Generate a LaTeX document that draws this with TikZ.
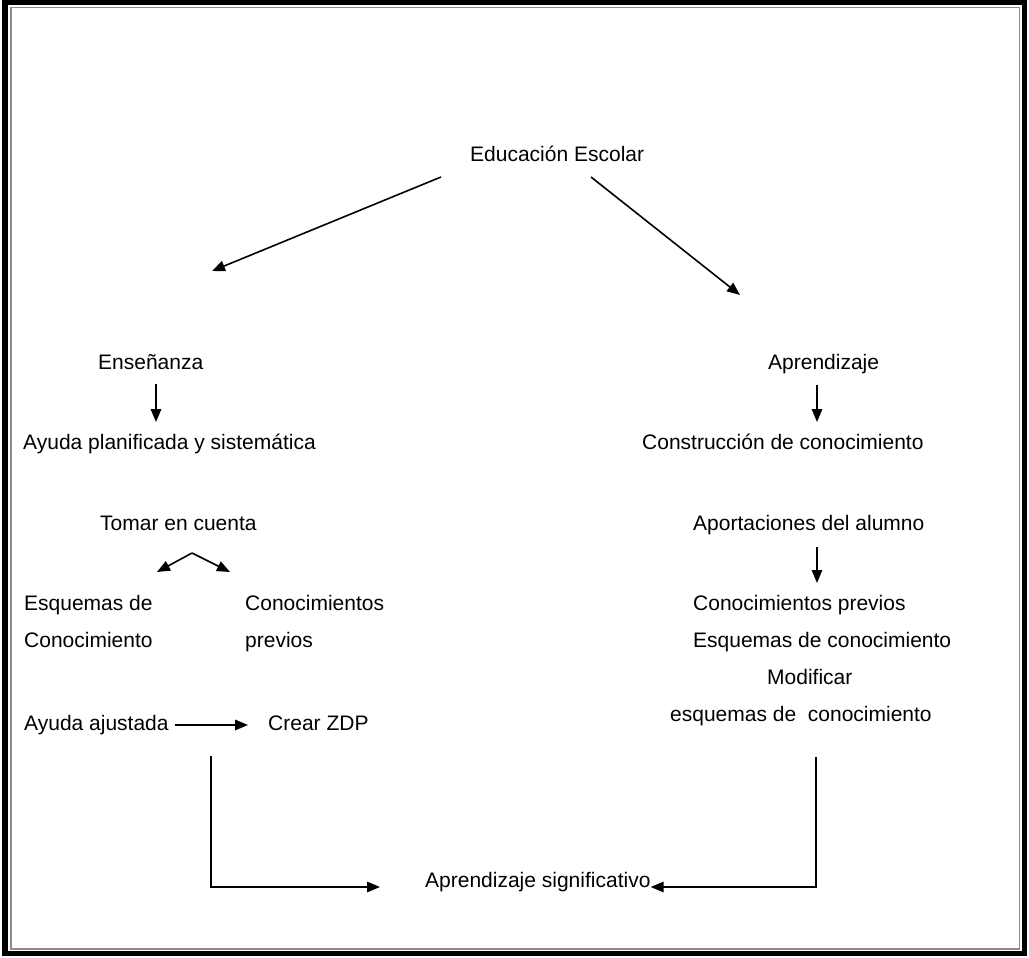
\documentclass[tikz,border=0pt]{standalone}
\usepackage{fontspec}
\setmainfont{Liberation Sans}
\usetikzlibrary{arrows.meta}
\begin{document}
\begin{tikzpicture}[x=1pt,y=-1pt,
  txt/.style={inner sep=0pt, anchor=base west, font=\fontsize{21}{25}\selectfont},
  arr/.style={line width=1.6pt, -{Triangle[length=13pt,width=10.5pt]}},
  ln/.style={line width=1.6pt}]
\useasboundingbox (0,0) rectangle (1029,958);
\fill[white] (0,0) rectangle (1029,958);
\draw[line width=5.5pt] (5,2.5) rectangle (1024.5,953.5);
\draw[black!45, line width=1.4pt] (11,7.5) rectangle (1019.5,949);

% nodes
\node[txt] (edu) at (470,161) {Educación Escolar};
\node[txt] (ens) at (98,369) {Enseñanza};
\node[txt] (ayp) at (23,449) {Ayuda planificada y sistemática};
\node[txt] (tom) at (100,530) {Tomar en cuenta};
\node[txt] (esq) at (24,610) {Esquemas de};
\node[txt] (esq2) at (24,647) {Conocimiento};
\node[txt] (con) at (245,610) {Conocimientos};
\node[txt] (con2) at (245,647) {previos};
\node[txt] (aya) at (24,730) {Ayuda ajustada};
\node[txt] (zdp) at (268,730) {Crear ZDP};
\node[txt] (apr) at (768,369) {Aprendizaje};
\node[txt] (cons) at (642,449) {Construcción de conocimiento};
\node[txt] (apo) at (693,530) {Aportaciones del alumno};
\node[txt] (cp) at (693,610) {Conocimientos previos};
\node[txt] (ec) at (693,647) {Esquemas de conocimiento};
\node[txt] (mod) at (767,684) {Modificar};
\node[txt] (mec) at (670,721) {esquemas de~~conocimiento};
\node[txt] (aps) at (425,887) {Aprendizaje significativo};

% connectors
\draw[arr] ([shift={(-29,16)}]edu.base west) -- ([shift={(114,-98)}]ens.base west);
\draw[arr] ([shift={(121,16)}]edu.base west) -- ([shift={(-28,-74)}]apr.base west);
\draw[arr] ([shift={(58,15)}]ens.base west) -- ([shift={(133,-27)}]ayp.base west);
\coordinate (apex) at ([shift={(92,23)}]tom.base west);
\draw[arr] (apex) -- ([shift={(133,-38)}]esq.base west);
\draw[arr] (apex) -- ([shift={(-15,-38)}]con.base west);
\draw[arr] ([shift={(151,-5)}]aya.base west) -- ([shift={(-20,-5)}]zdp.base west);
\draw[arr] ([shift={(187,26)}]aya.base west) |- ([shift={(-45,0)}]aps.base west);
\draw[arr] ([shift={(49,16)}]apr.base west) -- ([shift={(175,-27)}]cons.base west);
\draw[arr] ([shift={(124,17)}]apo.base west) -- ([shift={(124,-27)}]cp.base west);
\draw[arr] ([shift={(146,36)}]mec.base west) |- (aps.base east);
\end{tikzpicture}
\end{document}
